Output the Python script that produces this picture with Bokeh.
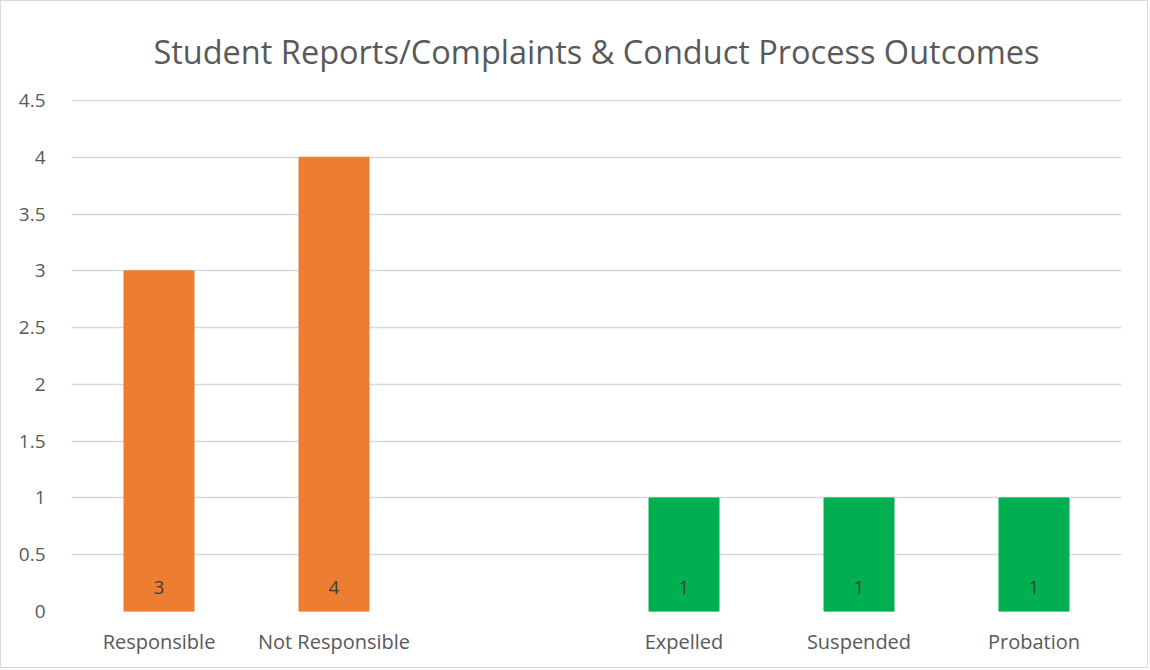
from bokeh.plotting import figure
from bokeh.models import ColumnDataSource, FactorRange, Range1d, SingleIntervalTicker
from bokeh.embed import file_html
from bokeh.resources import INLINE
from bokeh.core.properties import value

title_text = "Student Reports/Complaints & Conduct Process Outcomes"
categories = ["Responsible", "Not Responsible", " ", "Expelled", "Suspended", "Probation"]
bar_cats = ["Responsible", "Not Responsible", "Expelled", "Suspended", "Probation"]
counts = [3, 4, 1, 1, 1]
colors = ["#ED7D31", "#ED7D31", "#00B050", "#00B050", "#00B050"]
labels = [str(c) for c in counts]

src = ColumnDataSource(dict(cat=bar_cats, val=counts, color=colors, lab=labels,
                            base=[0] * len(counts)))

p = figure(x_range=FactorRange(*categories), y_range=Range1d(0, 4.509),
           width=1148, height=668, output_backend="svg", toolbar_location=None,
           min_border_left=70, min_border_right=28, min_border_top=98, min_border_bottom=58)
p.styles = {"border": "1px solid #d9d9d9"}
p.x_range.range_padding = 0
p.outline_line_color = None

p.title.text = title_text
p.title.align = "center"
p.title.vertical_align = "middle"
p.title.text_font = "Open Sans"
p.title.text_font_size = "32.5px"
p.title.text_font_style = "normal"
p.title.text_color = "#595959"
p.title.standoff = 50

p.vbar(x="cat", top="val", width=0.4, color="color", source=src)
p.text(x="cat", y="base", text="lab", source=src, text_align="center",
       text_baseline="middle", y_offset=-24, text_font=value("Open Sans"),
       text_font_size="19px", text_color="#404040")

p.yaxis.ticker = SingleIntervalTicker(interval=0.5)
p.ygrid.grid_line_color = "#d9d9d9"
p.ygrid.grid_line_width = 1.5
p.xgrid.grid_line_color = None

for ax in (p.xaxis, p.yaxis):
    ax.axis_line_color = None
    ax.major_tick_line_color = None
    ax.minor_tick_line_color = None
    ax.major_label_text_font = "Open Sans"
    ax.major_label_text_color = "#595959"
    ax.major_tick_out = 0
    ax.major_tick_in = 0
p.yaxis.major_label_text_font_size = "19px"
p.xaxis.major_label_text_font_size = "20px"
p.yaxis.major_label_standoff = 22
p.xaxis.major_label_standoff = 16

html = file_html(p, INLINE)
html = html.replace("<head>", "<head><style>body{margin:0;}</style>", 1)
open("out.html", "w").write(html)
